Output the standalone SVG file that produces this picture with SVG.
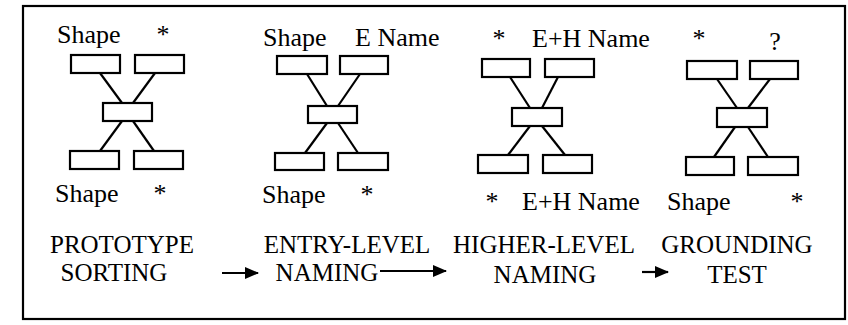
<svg xmlns="http://www.w3.org/2000/svg" width="848" height="325" viewBox="0 0 848 325">
<style>
.bx{fill:#fff;stroke:#000;stroke-width:2.2}
.ln{stroke:#000;stroke-width:2.2;fill:none}
text{font-family:'Liberation Serif','Times New Roman',serif;fill:#000}
.t{font-size:26px}
.b{font-size:25px;text-anchor:middle}
.m{text-anchor:middle}
</style>
<defs>
<marker id="ah" viewBox="0 0 14 12" refX="13" refY="6" markerWidth="14" markerHeight="12" markerUnits="userSpaceOnUse" orient="auto">
<path d="M0,0 L14,6 L0,12 Z" fill="#000"/>
</marker>
</defs>
<rect x="23" y="6" width="822" height="313" fill="#fff" stroke="#000" stroke-width="2.2"/>

<g id="connectors">
<line class="ln" x1="100" y1="73" x2="122" y2="103"/>
<line class="ln" x1="155" y1="73" x2="133" y2="103"/>
<line class="ln" x1="122" y1="121" x2="100" y2="151"/>
<line class="ln" x1="133" y1="121" x2="154" y2="151"/>

<line class="ln" x1="307" y1="74" x2="327" y2="106"/>
<line class="ln" x1="360" y1="74" x2="338" y2="106"/>
<line class="ln" x1="327" y1="123" x2="305" y2="153"/>
<line class="ln" x1="338" y1="123" x2="358" y2="153"/>

<line class="ln" x1="510" y1="77" x2="530" y2="108"/>
<line class="ln" x1="558" y1="77" x2="542" y2="108"/>
<line class="ln" x1="530" y1="126" x2="508" y2="155"/>
<line class="ln" x1="542" y1="126" x2="565" y2="155"/>

<line class="ln" x1="717" y1="79" x2="737" y2="108"/>
<line class="ln" x1="770" y1="79" x2="748" y2="108"/>
<line class="ln" x1="735" y1="127" x2="714" y2="157"/>
<line class="ln" x1="748" y1="127" x2="768" y2="157"/>

<line class="ln" x1="222" y1="273" x2="258" y2="273" marker-end="url(#ah)"/>
<line class="ln" x1="380" y1="271" x2="446" y2="271" marker-end="url(#ah)"/>
<line class="ln" x1="642" y1="272" x2="668" y2="272" marker-end="url(#ah)"/>
</g>

<g id="panel1">
<text class="t" x="57" y="43">Shape</text>
<text class="t m" x="163" y="43">*</text>
<rect class="bx" x="71" y="55" width="49" height="18"/>
<rect class="bx" x="135" y="55" width="49" height="18"/>
<rect class="bx" x="103" y="103" width="49" height="18"/>
<rect class="bx" x="70" y="151" width="49" height="18"/>
<rect class="bx" x="134" y="151" width="49" height="18"/>
<text class="t" x="55" y="202">Shape</text>
<text class="t m" x="160" y="202">*</text>
</g>

<g id="panel2">
<text class="t" x="263" y="46">Shape</text>
<text class="t" x="355" y="46">E Name</text>
<rect class="bx" x="277" y="56" width="50" height="18"/>
<rect class="bx" x="340" y="56" width="48" height="18"/>
<rect class="bx" x="308" y="106" width="49" height="17"/>
<rect class="bx" x="275" y="153" width="49" height="17"/>
<rect class="bx" x="338" y="153" width="50" height="17"/>
<text class="t" x="262" y="203">Shape</text>
<text class="t m" x="367" y="203">*</text>
</g>

<g id="panel3">
<text class="t m" x="499" y="47">*</text>
<text class="t" x="532" y="47">E+H Name</text>
<rect class="bx" x="482" y="59" width="48" height="18"/>
<rect class="bx" x="545" y="59" width="49" height="18"/>
<rect class="bx" x="512" y="108" width="50" height="18"/>
<rect class="bx" x="478" y="155" width="50" height="18"/>
<rect class="bx" x="543" y="155" width="49" height="18"/>
<text class="t m" x="492" y="210">*</text>
<text class="t" x="522" y="210">E+H Name</text>
</g>

<g id="panel4">
<text class="t m" x="699" y="47">*</text>
<text class="t m" x="775" y="50">?</text>
<rect class="bx" x="687" y="61" width="50" height="18"/>
<rect class="bx" x="750" y="61" width="48" height="18"/>
<rect class="bx" x="717" y="108" width="50" height="19"/>
<rect class="bx" x="686" y="157" width="48" height="18"/>
<rect class="bx" x="748" y="157" width="50" height="18"/>
<text class="t" x="667" y="210">Shape</text>
<text class="t m" x="797" y="210">*</text>
</g>

<g id="stage1">
<text class="b" x="122" y="253">PROTOTYPE</text>
<text class="b" x="114" y="281">SORTING</text>
</g>
<g id="stage2">
<text class="b" x="347" y="253">ENTRY-LEVEL</text>
<text class="b" x="327" y="281">NAMING</text>
</g>
<g id="stage3">
<text class="b" x="544" y="253">HIGHER-LEVEL</text>
<text class="b" x="545" y="283">NAMING</text>
</g>
<g id="stage4">
<text class="b" x="737" y="253">GROUNDING</text>
<text class="b" x="737" y="283">TEST</text>
</g>
</svg>
